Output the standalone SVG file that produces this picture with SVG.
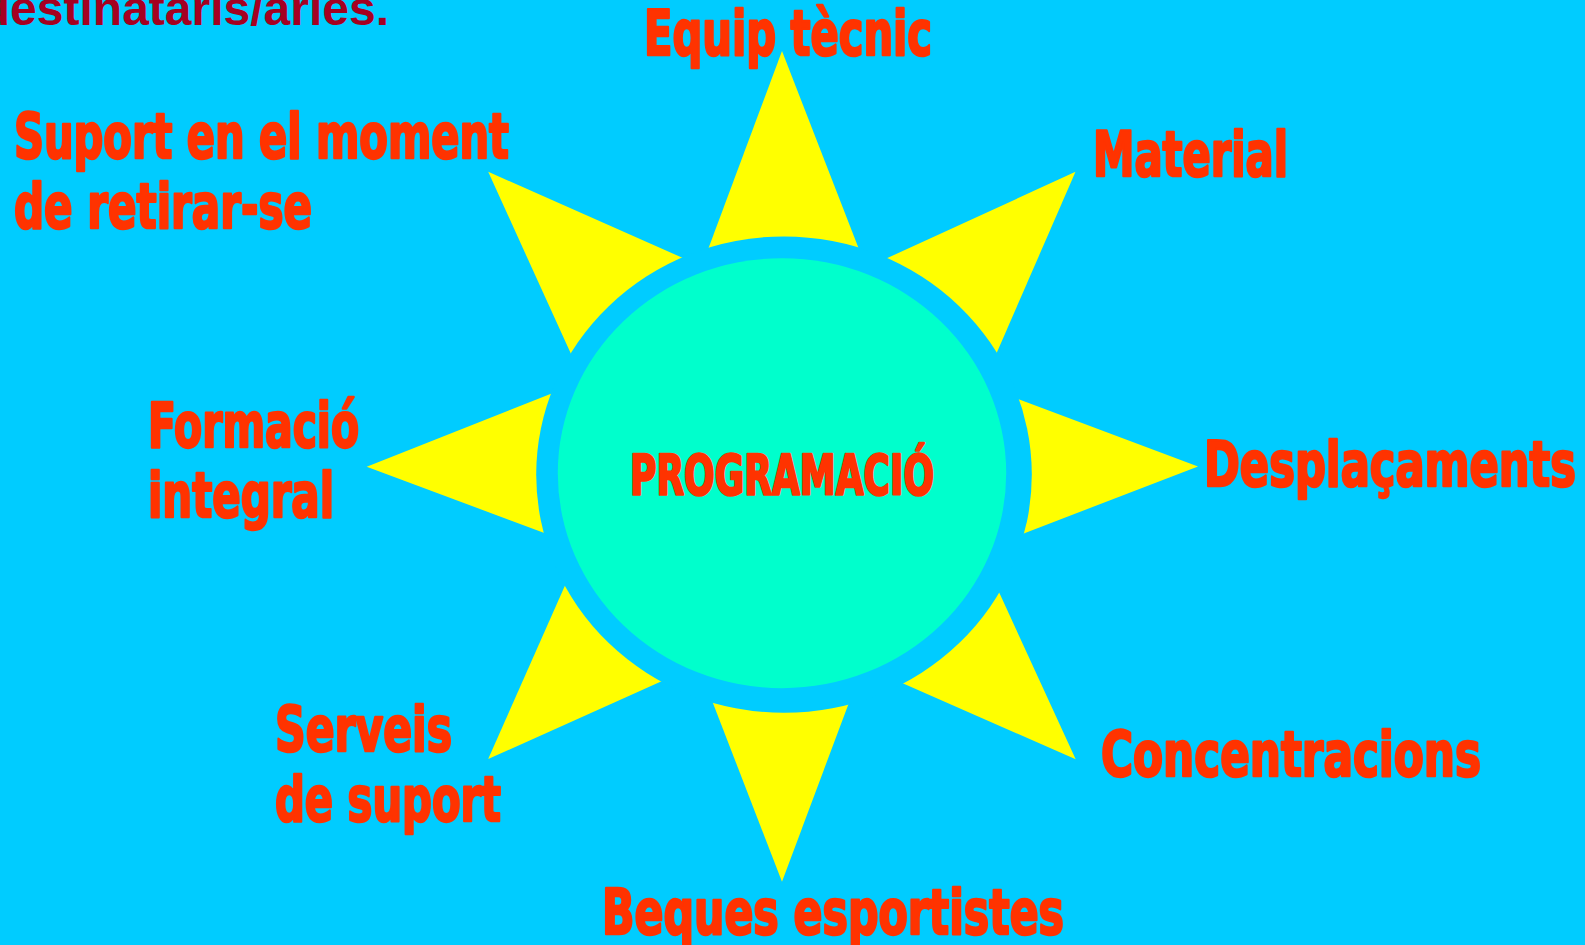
<svg xmlns="http://www.w3.org/2000/svg" width="1585" height="945" viewBox="0 0 1585 945">
<style>
.bg{fill:#00CCFF}
.ray{fill:#FFFF00}
.lbl{font-family:"Liberation Sans Narrow","DejaVu Sans Condensed","Liberation Sans",sans-serif;font-weight:bold;font-size:62px;fill:#FF3300;stroke:#FF3300;stroke-width:2.5px;stroke-linejoin:round}
.top{font-family:"Liberation Sans",Arial,sans-serif;font-weight:bold;font-size:48px;fill:#A50021}
</style>
<rect class="bg" x="0" y="0" width="1585" height="945"/>
<text class="top" x="389" y="25" text-anchor="end">destinataris/aries.</text>
<g id="connectors">
<polygon class="ray" points="782,51 703.2,262.4 863.8,261.6"/>
<polygon class="ray" points="1075.5,171.8 874.1,264.1 991.5,364.8"/>
<polygon class="ray" points="1198,466.5 1006.8,394.7 1011.9,538"/>
<polygon class="ray" points="1075.7,759.3 993.9,581.1 891.3,678.3"/>
<polygon class="ray" points="782,881.7 853,691.9 707.8,689.8"/>
<polygon class="ray" points="488.2,759.1 672.7,676.2 570.1,574"/>
<polygon class="ray" points="366.7,466.7 557.1,537.8 564.3,388.5"/>
<polygon class="ray" points="488.2,171.8 576.5,366.1 695.3,263.5"/>
<ellipse class="bg" cx="784" cy="474.6" rx="247.8" ry="238.2"/>
</g>
<g id="node-programacio">
<ellipse cx="782" cy="473.2" rx="224.2" ry="215" fill="#00FFCC"/>
<text class="lbl" x="630" y="494" textLength="304" lengthAdjust="spacingAndGlyphs" style="font-size:56px">PROGRAMACIÓ</text>
</g>
<g id="node-equip-tecnic"><text class="lbl" x="644" y="55" textLength="288" lengthAdjust="spacingAndGlyphs">Equip tècnic</text></g>
<g id="node-material"><text class="lbl" x="1093" y="176" textLength="195" lengthAdjust="spacingAndGlyphs">Material</text></g>
<g id="node-desplacaments"><text class="lbl" x="1204" y="486" textLength="372" lengthAdjust="spacingAndGlyphs">Desplaçaments</text></g>
<g id="node-concentracions"><text class="lbl" x="1101" y="776" textLength="380" lengthAdjust="spacingAndGlyphs">Concentracions</text></g>
<g id="node-beques"><text class="lbl" x="602" y="934" textLength="462" lengthAdjust="spacingAndGlyphs">Beques esportistes</text></g>
<g id="node-serveis">
<text class="lbl" x="275" y="751" textLength="177" lengthAdjust="spacingAndGlyphs">Serveis</text>
<text class="lbl" x="275" y="821" textLength="226" lengthAdjust="spacingAndGlyphs">de suport</text>
</g>
<g id="node-formacio">
<text class="lbl" x="148" y="447" textLength="211" lengthAdjust="spacingAndGlyphs">Formació</text>
<text class="lbl" x="148" y="517" textLength="186" lengthAdjust="spacingAndGlyphs">integral</text>
</g>
<g id="node-suport">
<text class="lbl" x="14" y="158" textLength="495" lengthAdjust="spacingAndGlyphs">Suport en el moment</text>
<text class="lbl" x="14" y="228" textLength="298" lengthAdjust="spacingAndGlyphs">de retirar-se</text>
</g>
</svg>
